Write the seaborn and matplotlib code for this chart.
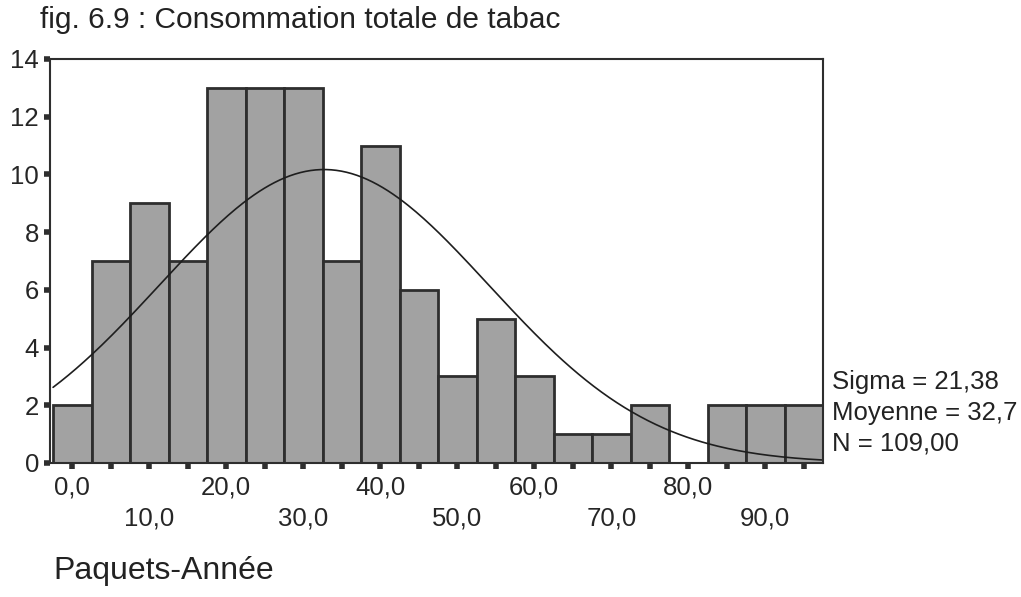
import numpy as np
import pandas as pd
import matplotlib
matplotlib.use("Agg")
import matplotlib.pyplot as plt
import seaborn as sns

# Bin centres (paquets-année) and counts per bin
bin_centers = [0, 5, 10, 15, 20, 25, 30, 35, 40, 45, 50, 55, 60, 65, 70, 75, 80, 85, 90, 95]
counts = [2, 7, 9, 7, 13, 13, 13, 7, 11, 6, 3, 5, 3, 1, 1, 2, 0, 2, 2, 2]
sigma = 21.38
mean = 32.7
n_total = 109
bin_width = 5
y_ticks = [0, 2, 4, 6, 8, 10, 12, 14]

sns.set_theme(style="white")
plt.rcParams["font.family"] = ["Liberation Sans", "DejaVu Sans"]

fig = plt.figure(figsize=(10.21, 5.97), dpi=100)
ax = fig.add_axes([50 / 1021, 1 - 463 / 597, (823 - 50) / 1021, (463 - 59) / 597])

df = pd.DataFrame({"x": bin_centers, "n": counts})
edges = [c - bin_width / 2 for c in bin_centers] + [bin_centers[-1] + bin_width / 2]
sns.histplot(data=df, x="x", weights="n", bins=edges, ax=ax,
             color="#a2a2a2", alpha=1.0, edgecolor="#2e2e2e", linewidth=2.0)

# Normal curve scaled to counts
xs = np.linspace(edges[0], edges[-1], 300)
ys = n_total * bin_width / (sigma * np.sqrt(2 * np.pi)) * np.exp(-0.5 * ((xs - mean) / sigma) ** 2)
sns.lineplot(x=xs, y=ys, ax=ax, color="#1e1e1e", linewidth=1.2)

ax.set_xlim(-2.9, 97.5)
ax.set_ylim(0, 14)

ax.set_yticks(y_ticks)
ax.set_yticklabels([str(v) for v in y_ticks], fontsize=18.5)

xlabels = []
for c in bin_centers:
    if c % 20 == 0:
        xlabels.append(f"{c:.1f}".replace(".", ","))
    elif c % 10 == 0:
        xlabels.append("\n" + f"{c:.1f}".replace(".", ","))
    else:
        xlabels.append("")
ax.set_xticks(bin_centers)
ax.set_xticklabels(xlabels, fontsize=18.5, linespacing=1.38)

ax.tick_params(axis="both", which="both", direction="out", length=4, width=4,
               color="#2e2e2e", bottom=True, left=True)
ax.tick_params(axis="x", pad=5)
ax.tick_params(axis="y", pad=4)
for s in ax.spines.values():
    s.set_color("#2e2e2e")
    s.set_linewidth(1.5)
ax.set_xlabel("")
ax.set_ylabel("")

fig.text(40 / 1021, 1 - 20 / 597, "fig. 6.9 : Consommation totale de tabac",
         fontsize=21.5, color="#222222", va="center", ha="left")
fig.text(53 / 1021, 1 - 571 / 597, "Paquets-Année", fontsize=23,
         color="#222222", va="center", ha="left")

stats = [f"Sigma = {sigma:.2f}".replace(".", ","),
         f"Moyenne = {mean:.1f}".replace(".", ","),
         f"N = {n_total:.2f}".replace(".", ",")]
for i, line in enumerate(stats):
    fig.text(832 / 1021, 1 - (382 + 31 * i) / 597, line, fontsize=18.5,
             color="#222222", va="center", ha="left")

fig.savefig("out.png", dpi=100, facecolor="white")
